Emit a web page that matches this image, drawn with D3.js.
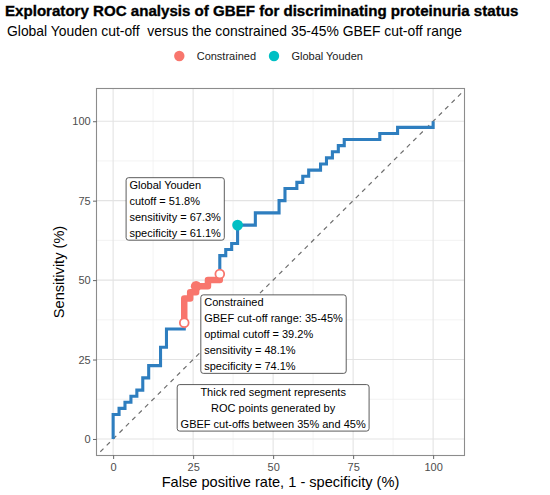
<!DOCTYPE html>
<html><head><meta charset="utf-8">
<script src="https://cdn.jsdelivr.net/npm/d3@7"></script>
<style>
body{margin:0;background:#fff}
text{font-family:"Liberation Sans",Arial,Helvetica,sans-serif}
</style>
</head><body><svg id="c" width="550" height="495"></svg>
<script>
// ROC vertices (percent): false positive rate and sensitivity
const fprPct=[0,0,1.85,1.85,3.70,3.70,5.56,5.56,7.41,7.41,9.26,9.26,11.11,11.11,14.81,14.81,16.67,16.67,22.22,22.22,22.22,24.07,24.07,25.93,25.93,29.63,29.63,33.33,33.33,33.33,35.19,35.19,37.04,37.04,38.89,38.89,44.44,44.44,51.85,51.85,53.70,53.70,57.41,57.41,59.26,59.26,61.11,61.11,64.81,64.81,66.67,66.67,68.52,68.52,70.37,70.37,72.22,72.22,83.33,83.33,88.89,88.89,100,100];
const tprPct=[0,7.69,7.69,9.62,9.62,11.54,11.54,13.46,13.46,15.38,15.38,19.23,19.23,23.08,23.08,28.85,28.85,34.62,34.62,36.54,44.23,44.23,46.15,46.15,48.08,48.08,50.00,50.00,51.92,57.69,57.69,59.62,59.62,61.54,61.54,67.31,67.31,71.15,71.15,75.00,75.00,78.85,78.85,80.77,80.77,82.69,82.69,84.62,84.62,86.54,86.54,88.46,88.46,90.38,90.38,92.31,92.31,94.23,94.23,96.15,96.15,98.08,98.08,100];
// constrained segment (GBEF cut-offs 35-45%)
const consFpr=[22.22,22.22,24.07,24.07,25.93,25.93,29.63,29.63,33.33,33.33];
const consTpr=[36.54,44.23,44.23,46.15,46.15,48.08,48.08,50.00,50.00,51.92];
const rangeEndFpr=[22.22,33.33];
const rangeEndTpr=[36.54,51.92];
const optimalFpr=[25.93], optimalTpr=[48.08];
const youdenFpr=[38.89], youdenTpr=[67.31];
const majorTicks=[0,25,50,75,100];
const minorTicks=[12.5,37.5,62.5,87.5];
const legendLabels=["Constrained","Global Youden"];
const youdenLines=["Global Youden","cutoff = 51.8%","sensitivity = 67.3%","specificity = 61.1%"];
const consLines=["Constrained","GBEF cut-off range: 35-45%","optimal cutoff = 39.2%","sensitivity = 48.1%","specificity = 74.1%"];
const noteLines=["Thick red segment represents","ROC points generated by","GBEF cut-offs between 35% and 45%"];
const titleText="Exploratory ROC analysis of GBEF for discriminating proteinuria status";
const subtitleText="Global Youden cut-off  versus the constrained 35-45% GBEF cut-off range";

const RED="#F8766D", TEAL="#00BFC4", BLUE="#2E7EBF";
const svg=d3.select("#c");
const L=96.5,R=464.5,T=88.5,B=455.5;
const x=d3.scaleLinear().domain([-5.2,109.8]).range([L,R]);
const y=d3.scaleLinear().domain([-5.2,110.3]).range([B,T]);

// titles
svg.append("text").attr("x",5).attr("y",16).attr("font-size",15.1).attr("font-weight","bold").attr("fill","#000")
  .attr("stroke","#000").attr("stroke-width",0.35).text(titleText);
svg.append("text").attr("x",7).attr("y",36).attr("font-size",13.9).attr("fill","#000").style("white-space","pre").text(subtitleText);

// legend
const legX=[179.3,274];
legendLabels.forEach((lab,i)=>{
  svg.append("circle").attr("cx",legX[i]).attr("cy",56).attr("r",5.2).attr("fill",i===0?RED:TEAL);
  svg.append("text").attr("x",legX[i]+17.4).attr("y",60).attr("font-size",11).attr("fill","#1a1a1a").text(lab);
});

// panel grid
const grid=svg.append("g");
minorTicks.forEach(v=>{
  grid.append("line").attr("x1",x(v)).attr("x2",x(v)).attr("y1",T).attr("y2",B).attr("stroke","#F0F0F0").attr("stroke-width",0.8);
  grid.append("line").attr("y1",y(v)).attr("y2",y(v)).attr("x1",L).attr("x2",R).attr("stroke","#F0F0F0").attr("stroke-width",0.8);
});
majorTicks.forEach(v=>{
  grid.append("line").attr("x1",x(v)).attr("x2",x(v)).attr("y1",T).attr("y2",B).attr("stroke","#E3E3E3").attr("stroke-width",1.1);
  grid.append("line").attr("y1",y(v)).attr("y2",y(v)).attr("x1",L).attr("x2",R).attr("stroke","#E3E3E3").attr("stroke-width",1.1);
});

svg.append("defs").append("clipPath").attr("id","clip").append("rect").attr("x",L).attr("y",T).attr("width",R-L).attr("height",B-T);
const plot=svg.append("g").attr("clip-path","url(#clip)");

// diagonal reference
plot.append("line").attr("x1",x(-10)).attr("y1",y(-10)).attr("x2",x(120)).attr("y2",y(120))
  .attr("stroke","#6e6e6e").attr("stroke-width",1.2).attr("stroke-dasharray","4.5,4.5");

// ROC curve
const line=d3.line().x(d=>x(d[0])).y(d=>y(d[1]));
plot.append("path").datum(d3.zip(fprPct,tprPct)).attr("d",line).attr("fill","none")
  .attr("stroke",BLUE).attr("stroke-width",3.1).attr("stroke-linejoin","miter");
plot.append("path").datum(d3.zip(consFpr,consTpr)).attr("d",line).attr("fill","none")
  .attr("stroke",RED).attr("stroke-width",6.5).attr("stroke-linejoin","round").attr("stroke-linecap","round");
plot.selectAll("circle.end").data(d3.zip(rangeEndFpr,rangeEndTpr)).enter().append("circle")
  .attr("cx",d=>x(d[0])).attr("cy",d=>y(d[1])).attr("r",4.4).attr("fill","#fff").attr("stroke",RED).attr("stroke-width",1.8);
plot.selectAll("circle.opt").data(d3.zip(optimalFpr,optimalTpr)).enter().append("circle")
  .attr("cx",d=>x(d[0])).attr("cy",d=>y(d[1])).attr("r",5.3).attr("fill",RED);
plot.selectAll("circle.you").data(d3.zip(youdenFpr,youdenTpr)).enter().append("circle")
  .attr("cx",d=>x(d[0])).attr("cy",d=>y(d[1])).attr("r",5.4).attr("fill",TEAL);

// labels
function label(lines,ax,ay,align){
  const g=svg.append("g");
  const lh=16, fs=11, pad=3.4;
  const h=(lines.length-1)*lh+14.5;
  const cy=y(ay);
  const top=cy-h/2;
  const texts=lines.map((t,i)=>g.append("text").attr("font-size",fs).attr("fill","#000")
     .attr("y",top+7.25+i*lh+3.9).text(t));
  const w=d3.max(texts,t=>t.node().getComputedTextLength())+2*pad;
  let left;
  if(align==="left"){left=x(ax);texts.forEach(t=>t.attr("x",left+pad));}
  else{left=x(ax)-w/2;texts.forEach(t=>t.attr("x",x(ax)).attr("text-anchor","middle"));}
  g.insert("rect","text").attr("x",left).attr("y",top).attr("width",w).attr("height",h)
    .attr("rx",2.5).attr("fill","#fff").attr("stroke","#333").attr("stroke-width",0.8);
}
label(youdenLines,4.05,72.4,"left");
label(consLines,27.4,33.0,"left");
label(noteLines,50,9.8,"center");

// panel border
svg.append("rect").attr("x",L).attr("y",T).attr("width",R-L).attr("height",B-T).attr("fill","none").attr("stroke","#8c8c8c").attr("stroke-width",1.1);

// axes
const ax=svg.append("g").attr("transform",`translate(0,${B})`).call(d3.axisBottom(x).tickValues(majorTicks).tickSize(3.5).tickPadding(4.5));
const ay=svg.append("g").attr("transform",`translate(${L},0)`).call(d3.axisLeft(y).tickValues(majorTicks).tickSize(3.5).tickPadding(2.3));
[ax,ay].forEach(g=>{
  g.select(".domain").remove();
  g.selectAll(".tick line").attr("stroke","#555").attr("stroke-width",0.9);
  g.selectAll(".tick text").attr("font-size",11).attr("fill","#4D4D4D").attr("font-family",null);
});

svg.append("text").attr("x",(L+R)/2).attr("y",487).attr("text-anchor","middle").attr("font-size",14.6).attr("fill","#000").text("False positive rate, 1 - specificity (%)");
svg.append("text").attr("transform",`translate(64,${(T+B)/2}) rotate(-90)`).attr("text-anchor","middle").attr("font-size",14.6).attr("fill","#000").text("Sensitivity (%)");
</script></body></html>
